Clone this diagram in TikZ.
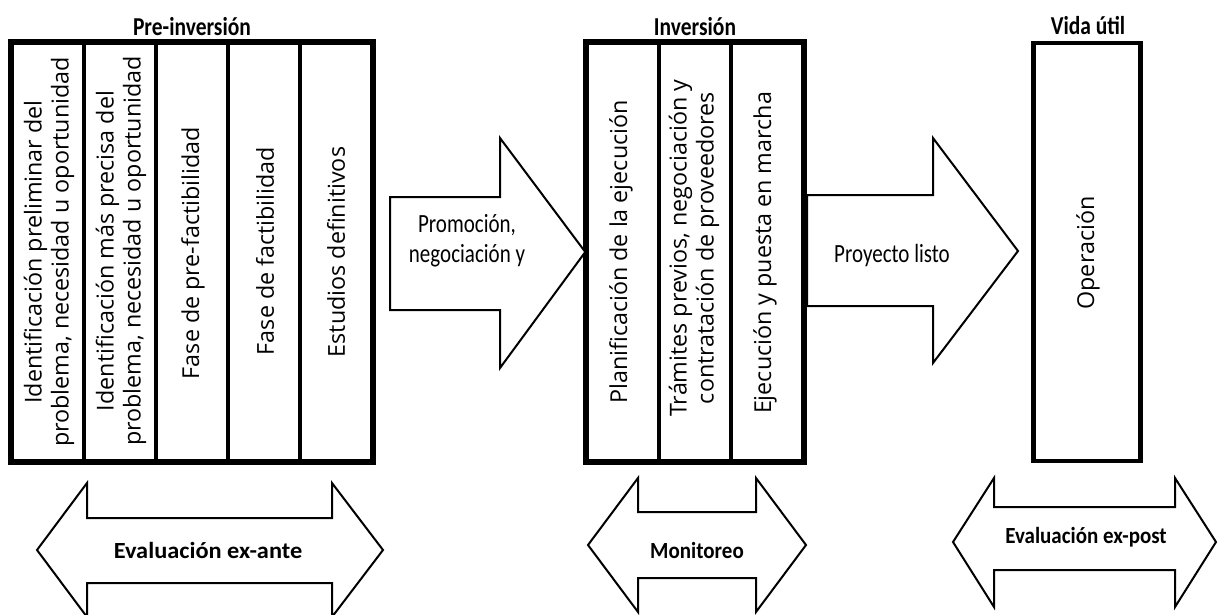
\documentclass[tikz,border=0pt]{standalone}
\usepackage{fontspec}
\setmainfont{Carlito}
\newfontfamily\cellfont{Open Sans}
\usetikzlibrary{positioning}

\tikzset{
  cell/.style={draw,line width=3.5pt,minimum width=72pt,minimum height=418pt,inner sep=0pt},
  frame/.style={line width=4.5pt},
  vtext/.style={rotate=90,font=\cellfont\fontsize{23.3}{27}\selectfont,align=center,inner sep=0pt},
  phase/.style={font=\fontsize{21.5}{24}\selectfont\bfseries,inner sep=0pt,anchor=base,yscale=1.2,transform shape},
  flow/.style={draw,line width=2pt,line join=miter,fill=white},
  flowtext/.style={font=\fontsize{21}{24}\selectfont,align=center,inner sep=0pt,yscale=1.25,transform shape},
  evaltext/.style={font=\fontsize{21}{24}\selectfont\bfseries,inner sep=0pt,yscale=1.1,transform shape}
}

\begin{document}
\begin{tikzpicture}[x=1pt,y=-1pt]
  \clip (0,0) rectangle (1221,614);
  \fill[white] (0,0) rectangle (1221,614);

  % Pre-inversion
  \node[cell] (p1) at (48,252) {};
  \node[cell] (p2) at (120,252) {};
  \node[cell] (p3) at (192,252) {};
  \node[cell] (p4) at (264,252) {};
  \node[cell] (p5) at (336,252) {};
  \draw[frame] (p1.north west) rectangle (p5.south east);
  \node[phase] (pre) at (192,35) {Pre-inversión};
  \node[vtext] (tp1) at (49,252) {Identificación preliminar del\\problema, necesidad u oportunidad};
  \node[vtext] (tp2) at (121,251) {Identificación más precisa del\\problema, necesidad u oportunidad};
  \node[vtext] (tp3) at (193,253) {Fase de pre-factibilidad};
  \node[vtext] (tp4) at (265,251) {Fase de factibilidad};
  \node[vtext] (tp5) at (336,252) {Estudios definitivos};

  % Inversion
  \node[cell] (i1) at (623,252) {};
  \node[cell] (i2) at (695,252) {};
  \node[cell] (i3) at (767,252) {};
  \draw[frame] (i1.north west) rectangle (i3.south east);
  \node[phase] (inv) at (695,35) {Inversión};
  \node[vtext] (ti1) at (621,252) {Planificación de la ejecución};
  \node[vtext] (ti2) at (694,248) {Trámites previos, negociación y\\contratación de proveedores};
  \node[vtext] (ti3) at (765,253) {Ejecución y puesta en marcha};

  % Vida util
  \node[cell,minimum width=107pt,line width=4.5pt] (v1) at (1087,252) {};
  \node[phase] (vida) at (1088,34) {Vida útil};
  \node[vtext] (tv1) at (1088,253) {Operación};

  % flechas entre fases
  \draw[flow] (390,197) -- (500,197) -- (500,138) -- (i1.west) -- (500,368) -- (500,310) -- (390,310) -- cycle;
  \node[flowtext] (promo) at (467,241) {Promoción,\\negociación y};
  \draw[flow] (807,195) -- (933,195) -- (933,138) -- (1018,251) -- (933,363) -- (933,306) -- (807,306) -- cycle;
  \node[flowtext] (listo) at (892,255) {Proyecto listo};

  % evaluacion
  \draw[flow] (37,550) -- (87,483) -- (87,518) -- (332,518) -- (332,483) -- (383,550)
    -- (332,617) -- (332,583) -- (87,583) -- (87,617) -- cycle;
  \node[evaltext,xscale=1.16] (exante) at (208,550) {Evaluación ex-ante};
  \draw[flow] (588,545) -- (638,478) -- (638,512) -- (756,512) -- (756,478) -- (806,545)
    -- (756,612) -- (756,578) -- (638,578) -- (638,612) -- cycle;
  \node[evaltext] (monit) at (697,550) {Monitoreo};
  \draw[flow] (953,542) -- (994,478) -- (994,507) -- (1175,507) -- (1175,478) -- (1216,542)
    -- (1175,607) -- (1175,570) -- (994,570) -- (994,607) -- cycle;
  \node[evaltext] (expost) at (1086,537) {Evaluación ex-post};
\end{tikzpicture}
\end{document}
